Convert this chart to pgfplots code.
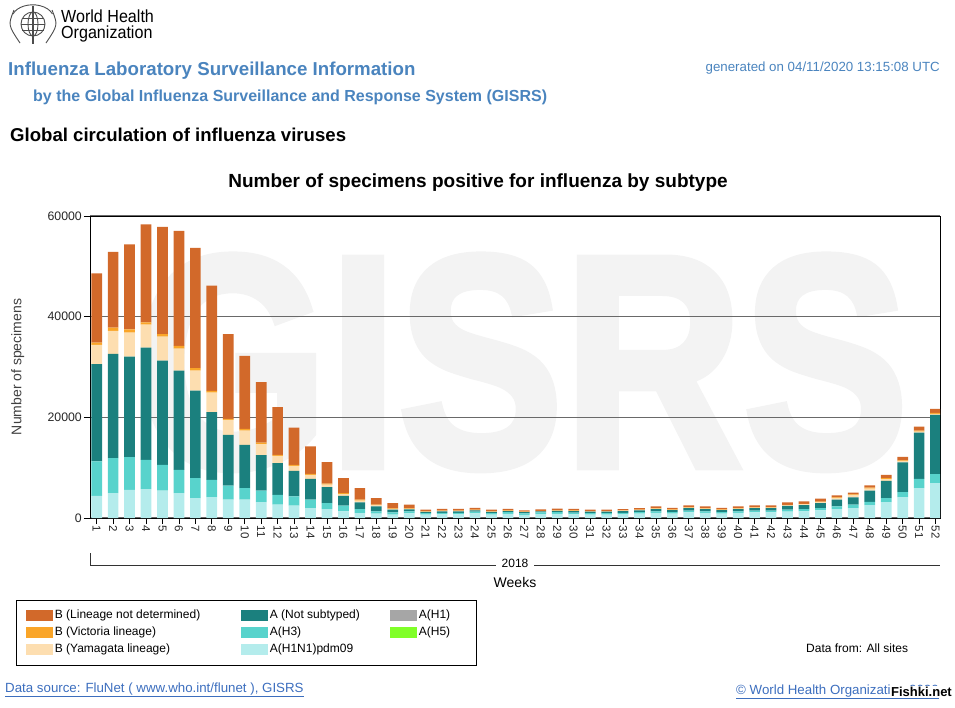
\documentclass[border=0pt]{standalone}
\usepackage{pgfplots}
\pgfplotsset{compat=1.18}
\usepackage{pgfplotstable}
\usepackage{fontspec}
\setmainfont{Liberation Sans}
\newfontfamily\wmfont[FakeBold=2.5]{Liberation Sans Bold}
\definecolor{bnd}{RGB}{210,105,42}
\definecolor{bvic}{RGB}{250,165,40}
\definecolor{byam}{RGB}{253,222,176}
\definecolor{ans}{RGB}{27,128,126}
\definecolor{ah3}{RGB}{88,211,204}
\definecolor{apdm}{RGB}{180,236,236}
\definecolor{ah1}{RGB}{166,166,166}
\definecolor{ah5}{RGB}{128,255,40}
\definecolor{whoblue}{RGB}{74,132,190}
\definecolor{linkblue}{RGB}{60,110,190}
\definecolor{wm}{RGB}{243,243,243}
\definecolor{gridc}{RGB}{105,105,105}

\pgfplotstableread{
w pdm h3 ns yam vic bnd
1 4420 6810 19320 3830 460 13770
2 4960 6940 20700 4560 660 15070
3 5610 6490 19960 4760 680 16860
4 5750 5820 22280 4560 480 19440
5 5420 5150 20700 4760 480 21340
6 4960 4620 19700 4370 530 22880
7 3970 3970 17380 3960 480 23930
8 4170 3430 13430 3890 340 20890
9 3630 2780 10120 2970 200 16810
10 3630 2320 8590 2840 340 14480
11 3170 2250 7080 2180 320 11980
12 2640 1980 6290 1450 200 9460
13 2440 1850 5090 1000 190 7410
14 1980 1650 4170 790 200 5420
15 1790 1190 3170 460 200 4300
16 1310 1130 1980 340 200 2980
17 990 800 1310 330 200 2320
18 850 460 990 200 140 1330
19 650 460 540 130 120 1080
20 900 400 400 100 100 740
21 650 300 250 80 70 300
22 700 330 300 80 70 320
23 700 330 300 80 70 320
24 900 350 250 80 70 350
25 650 300 250 80 70 300
26 800 350 200 80 70 300
27 600 300 250 60 40 250
28 750 350 200 70 50 280
29 800 350 250 80 70 300
30 700 350 300 80 70 300
31 650 300 300 70 60 270
32 650 300 300 70 60 270
33 750 280 350 70 60 280
34 850 300 380 80 70 300
35 1000 300 450 100 100 350
36 850 300 400 80 70 300
37 1100 350 500 100 100 350
38 1000 300 450 100 100 350
39 850 300 400 80 70 300
40 1000 300 450 100 100 350
41 1100 350 500 100 100 350
42 1100 350 500 100 100 350
43 1250 400 750 100 100 500
44 1300 450 800 150 100 500
45 1510 470 1000 150 150 550
46 1790 510 1330 260 200 400
47 1980 660 1450 400 200 330
48 2580 650 2190 400 200 450
49 3170 800 3430 300 200 690
50 4170 990 5870 200 200 700
51 5950 1850 9180 200 200 790
52 6940 1790 11760 200 200 800
}\flu

\begin{document}
\begin{tikzpicture}[x=1pt,y=-1pt]
\path[use as bounding box] (0,0) rectangle (955,707);

% WHO emblem (simplified)
\begin{scope}[gray!60!black, line width=0.9pt]
\draw (33,24) circle (12);
\draw (33,24) ellipse (5 and 12);
\draw (21,24) -- (45,24);
\draw (22,18) -- (44,18);
\draw (22,30) -- (44,30);
\draw (13,14) arc (200:340:21 and 14);
\draw (14,10) .. controls (8,25) .. (20,43);
\draw (52,10) .. controls (58,25) .. (46,43);
\draw[line width=1.4pt] (33,6) -- (33,44);
\end{scope}
\node[anchor=west, inner sep=0, font=\fontsize{17.5}{19}\selectfont] at (61,16) {\scalebox{0.92}[1]{World Health}};
\node[anchor=west, inner sep=0, font=\fontsize{17.5}{19}\selectfont] at (61,34) {\scalebox{0.92}[1]{Organization}};

\node[anchor=west, inner sep=0, text=whoblue, font=\fontsize{18.7}{21}\bfseries] at (8,71) {Influenza Laboratory Surveillance Information};
\node[anchor=west, inner sep=0, text=whoblue, font=\fontsize{16}{19}\bfseries] at (33,97) {by the Global Influenza Surveillance and Response System (GISRS)};
\node[anchor=east, inner sep=0, text=whoblue, font=\fontsize{13.3}{15}\selectfont] at (940,68) {generated on 04/11/2020 13:15:08 UTC};
\node[anchor=west, inner sep=0, font=\fontsize{18.6}{21}\bfseries] at (10,135) {Global circulation of influenza viruses};
\node[inner sep=0, font=\fontsize{19}{22}\bfseries] at (478,183) {Number of specimens positive for influenza by subtype};

% watermark
\node[anchor=north west, inner sep=0, text=wm] at (135,255) {\resizebox{772pt}{211pt}{\wmfont GISRS}};

\begin{axis}[
  at={(90pt,-518pt)}, anchor=south west,
  width=850pt, height=302pt, scale only axis,
  xmin=0.593, xmax=52.27, ymin=0, ymax=60000,
  ybar stacked, bar width=10.7pt,
  xtick={1,...,52}, ytick={0,20000,40000,60000},
  scaled y ticks=false,
  xtick pos=left, ytick pos=left, tick align=outside,
  major tick length=6pt,
  tick style={black, line width=0.8pt},
  xticklabel style={rotate=-90, anchor=west, inner sep=1.5pt, font=\fontsize{11.5}{12}\selectfont, text=black!85},
  yticklabel style={font=\fontsize{12.3}{13}\selectfont, text=black!85, inner sep=2pt},
  /pgf/number format/1000 sep={},
  /pgf/number format/assume math mode=true,
  axis line style={black, line width=0.9pt},
  ymajorgrids, grid style={gridc, line width=1.6pt},
  ylabel={Number of specimens},
  ylabel style={at={(axis description cs:-0.085,0.5)}, anchor=center, font=\fontsize{14}{16}\selectfont, text=black!75},
  legend columns=3, transpose legend,
  legend cell align=left,
  legend style={at={(axis description cs:-0.0871,-0.2715)}, anchor=north west,
    draw=black, line width=0.8pt, font=\fontsize{12}{14}\selectfont,
    inner xsep=10pt, inner ysep=8pt, row sep=2pt, column sep=0pt,
    nodes={inner sep=1.5pt, text height=9pt, text depth=3pt}},
  legend image code/.code={\fill[#1, draw=none] (0pt,-5.5pt) rectangle (27pt,5.5pt);},
]
\addplot[fill=apdm, draw=none, forget plot] table[x=w, y=pdm] {\flu};
\addplot[fill=ah3, draw=none, forget plot] table[x=w, y=h3] {\flu};
\addplot[fill=ans, draw=none, forget plot] table[x=w, y=ns] {\flu};
\addplot[fill=byam, draw=none, forget plot] table[x=w, y=yam] {\flu};
\addplot[fill=bvic, draw=none, forget plot] table[x=w, y=vic] {\flu};
\addplot[fill=bnd, draw=none, forget plot] table[x=w, y=bnd] {\flu};

\addlegendimage{fill=bnd, draw=none}
\addlegendentry{\makebox[185pt][l]{B (Lineage not determined)}}
\addlegendimage{fill=bvic, draw=none}
\addlegendentry{\makebox[185pt][l]{B (Victoria lineage)}}
\addlegendimage{fill=byam, draw=none}
\addlegendentry{\makebox[185pt][l]{B (Yamagata lineage)}}
\addlegendimage{fill=ans, draw=none}
\addlegendentry{\makebox[119pt][l]{A (Not subtyped)}}
\addlegendimage{fill=ah3, draw=none}
\addlegendentry{\makebox[119pt][l]{A(H3)}}
\addlegendimage{fill=apdm, draw=none}
\addlegendentry{\makebox[119pt][l]{A(H1N1)pdm09}}
\addlegendimage{fill=ah1, draw=none}
\addlegendentry{\makebox[46pt][l]{A(H1)}}
\addlegendimage{fill=ah5, draw=none}
\addlegendentry{\makebox[46pt][l]{A(H5)}}
\end{axis}

% year bracket
\draw[black!80, line width=0.9pt] (90,553) -- (90,565) -- (940,565);
\node[fill=white, inner xsep=6pt, inner ysep=1pt, font=\fontsize{12}{14}\selectfont] at (515,563) {2018};
\node[font=\fontsize{14}{16}\selectfont] at (515,582) {Weeks};

\node[anchor=west, inner sep=0, font=\fontsize{12}{14}\selectfont] at (806,648) {Data from: All sites};

\node[anchor=west, inner sep=0, text=linkblue, font=\fontsize{13.3}{15}\selectfont] at (5,690) {\underline{Data source: FluNet ( www.who.int/flunet ), GISRS}};
\node[anchor=west, inner sep=0, text=linkblue, font=\fontsize{13.3}{15}\selectfont] at (736,692) {\underline{\textcopyright\ World Health Organization 2020}};
\node[anchor=east, fill=white, inner sep=1pt, font=\fontsize{13}{15}\bfseries] at (953,692) {Fishki.net};
\end{tikzpicture}
\end{document}
